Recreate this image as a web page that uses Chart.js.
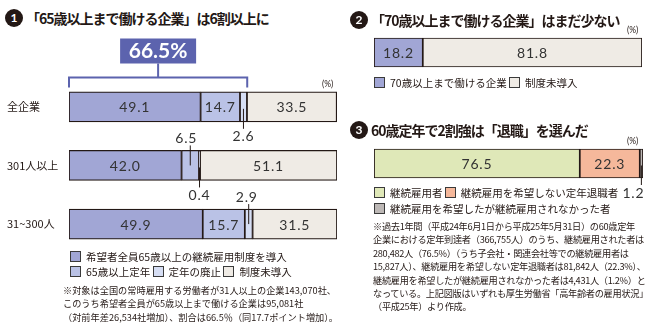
<!DOCTYPE html>
<html>
<head>
<meta charset="utf-8">
<script src="https://cdn.jsdelivr.net/npm/chart.js@4"></script>
<style>
  body { margin:0; background:#fff; width:649px; height:332px; overflow:hidden; position:relative;
         font-family:"Noto Sans CJK JP", "Noto Sans", sans-serif; color:#231815; }
  canvas { position:absolute; }
  .t { position:absolute; white-space:nowrap; }
  .title { font-size:14px; font-weight:bold; letter-spacing:-1px; line-height:18px; }
  .num { display:inline-block; width:18px; height:18px; border-radius:50%; background:#231815; color:#fff;
         font-family:Lato, sans-serif; font-size:12px; text-align:center; line-height:18px; margin-right:3px;
         letter-spacing:0; vertical-align:top; }
  .lg { font-size:10.5px; line-height:14px; }
  .sq { display:inline-block; width:9px; height:9px; border:1px solid #3a3a3a; vertical-align:-1px; margin-right:5px; }
  .note { font-size:9.2px; line-height:13.4px; }
  .pct { font-size:8.5px; font-family:Lato, sans-serif; }
</style>
</head>
<body>
<canvas id="c1" width="340" height="230" style="left:0;top:30px"></canvas>
<canvas id="c2" width="319" height="45" style="left:330px;top:30px"></canvas>
<canvas id="c3" width="319" height="70" style="left:330px;top:135px"></canvas>

<div class="t title" style="left:5px;top:9px"><span class="num">1</span>「65歳以上まで働ける企業」は6割以上に</div>
<div class="t title" style="left:350px;top:11px"><span class="num">2</span>「70歳以上まで働ける企業」はまだ少ない</div>
<div class="t title" style="left:350px;top:121px"><span class="num">3</span>60歳定年で2割強は「退職」を選んだ</div>

<div class="t pct" style="left:322px;top:79px">(%)</div>
<div class="t pct" style="left:627px;top:25px">(%)</div>
<div class="t pct" style="left:627px;top:136px">(%)</div>

<div id="lg1a" class="t lg" style="left:70px;top:250px"></div>
<div id="lg1b" class="t lg" style="left:70px;top:265px"></div>
<div class="t note" style="left:63px;top:284px">※対象は全国の常時雇用する労働者が31人以上の企業143,070社、<br>このうち希望者全員が65歳以上まで働ける企業は95,081社<br>（対前年差26,534社増加）、割合は66.5％（同17.7ポイント増加）。</div>

<div id="lg2" class="t lg" style="left:374px;top:76px"></div>
<div id="lg3a" class="t lg" style="left:374px;top:186px"></div>
<div id="lg3b" class="t lg" style="left:374px;top:202px"></div>
<div class="t note" style="left:373px;top:220px;letter-spacing:-0.3px">※過去1年間（平成24年6月1日から平成25年5月31日）の60歳定年<br>企業における定年到達者（366,755人）のうち、継続雇用された者は<br>280,482人（76.5%）（うち子会社・関連会社等での継続雇用者は<br>15,827人）、継続雇用を希望しない定年退職者は81,842人（22.3%）、<br>継続雇用を希望したが継続雇用されなかった者は4,431人（1.2%）と<br>なっている。上記図版はいずれも厚生労働省「高年齢者の雇用状況」<br>（平成25年）より作成。</div>

<script>
'use strict';

//Chart 1 data
var groups1 = ['全企業', '301人以上', '31~300人'];
var allOver65 = [49.1, 42.0, 49.9];
var retire65 = [14.7, 6.5, 15.7];
var abolished = [2.6, 0.4, 2.9];
var notIntroduced1 = [33.5, 51.1, 31.5];
var share65 = 66.5;

//Chart 2 data
var groups2 = ['全企業'];
var over70 = [18.2];
var notIntroduced2 = [81.8];

//Chart 3 data
var groups3 = ['定年到達者'];
var continued = [76.5];
var retiredNoWish = [22.3];
var wishedNotKept = [1.2];

var ink = '#231815';
var colors = {
    allOver65: '#a1a6d5',
    retire65: '#bac2e6',
    abolished: '#d6def4',
    none: '#efebe5',
    continued: '#dfe8b8',
    retired: '#f5b89b',
    notKept: '#bdb8b6',
    accent: '#5c63ae'
};

Chart.defaults.font.family = 'Lato, sans-serif';

//Legends
function legendItem(color, text) {
    return '<span class="sq" style="background:' + color + '"></span>' + text;
}
document.getElementById('lg1a').innerHTML = legendItem(colors.allOver65, '希望者全員65歳以上の継続雇用制度を導入');
document.getElementById('lg1b').innerHTML = legendItem(colors.retire65, '65歳以上定年') + '&nbsp;' +
    legendItem(colors.abolished, '定年の廃止') + '&nbsp;' + legendItem(colors.none, '制度未導入');
document.getElementById('lg2').innerHTML = legendItem(colors.allOver65, '70歳以上まで働ける企業') + '&nbsp;' +
    legendItem(colors.none, '制度未導入');
document.getElementById('lg3a').innerHTML = legendItem(colors.continued, '継続雇用者') + '&nbsp;' +
    legendItem(colors.retired, '継続雇用を希望しない定年退職者');
document.getElementById('lg3b').innerHTML = legendItem(colors.notKept, '継続雇用を希望したが継続雇用されなかった者');

//Labels inside bars, callouts and the 66.5% bracket
var labelPlugin = {
    id: 'barLabels',
    afterDatasetsDraw: function(chart, args, opts) {
        var ctx = chart.ctx;
        ctx.save();
        ctx.font = '14px Lato';
        ctx.letterSpacing = '0.8px';
        ctx.fillStyle = '#333';
        ctx.textAlign = 'center';
        ctx.textBaseline = 'middle';

        chart.data.datasets.forEach(function(ds, d) {
            if (!ds.inside) return;
            chart.getDatasetMeta(d).data.forEach(function(bar, i) {
                if (ds.inside[i]) {
                    ctx.fillText(ds.data[i].toFixed(1), (bar.x + bar.base) / 2, bar.y + 1);
                }
            });
        });

        (opts.callouts || []).forEach(function(c) {
            var bar = chart.getDatasetMeta(c.ds).data[c.i];
            var x = (bar.x + bar.base) / 2;
            var half = bar.height / 2;
            var text = chart.data.datasets[c.ds].data[c.i].toFixed(1);
            var ly = c.side === 'above' ? bar.y - half - 12 : bar.y + half + 15;
            var ey = c.side === 'above' ? ly + 7 : ly - 8;
            ctx.strokeStyle = ink;
            ctx.lineWidth = 1;
            ctx.beginPath();
            ctx.moveTo(x, bar.y + (c.side === 'above' ? 0 : 2));
            ctx.lineTo(x, ey);
            ctx.stroke();
            ctx.fillText(text, x + (c.dx || 0), ly);
        });

        var b = opts.bracket;
        if (b) {
            var xs = chart.scales.x;
            var x0 = xs.getPixelForValue(0), x1 = xs.getPixelForValue(b.value);
            var top = chart.chartArea.top;
            var mid = (x0 + x1) / 2;
            ctx.strokeStyle = colors.accent;
            ctx.lineWidth = 2;
            ctx.beginPath();
            ctx.moveTo(x0, top + 10);
            ctx.lineTo(x0, top);
            ctx.lineTo(x1, top);
            ctx.lineTo(x1, top + 10);
            ctx.moveTo(mid, top);
            ctx.lineTo(mid, top - 14);
            ctx.stroke();
            ctx.fillStyle = colors.accent;
            ctx.fillRect(mid - 38, top - 39, 76, 25);
            ctx.fillStyle = '#fff';
            ctx.font = 'bold 21px Lato';
            ctx.letterSpacing = '0px';
            ctx.fillText(b.value.toFixed(1) + '%', mid, top - 26);
        }
        ctx.restore();
    }
};

function segment(label, data, color, thickness, inside) {
    return {
        label: label,
        data: data,
        backgroundColor: color,
        borderColor: ink,
        borderWidth: 1.2,
        borderSkipped: false,
        barThickness: thickness,
        inside: inside
    };
}

function baseOptions(padding, pluginOpts) {
    return {
        indexAxis: 'y',
        responsive: false,
        animation: false,
        layout: { padding: padding },
        plugins: {
            legend: { display: false },
            tooltip: { enabled: false },
            barLabels: pluginOpts
        },
        scales: {
            x: { stacked: true, min: 0, max: 100, display: false },
            y: { stacked: true, display: false }
        }
    };
}

//Chart 1
var opts1 = baseOptions({ left: 7, right: 3, top: 47.5, bottom: 2.5 }, {
    callouts: [
        { ds: 1, i: 1, side: 'above', dx: -4 },
        { ds: 2, i: 0, side: 'below' },
        { ds: 2, i: 1, side: 'below' },
        { ds: 2, i: 2, side: 'above', dx: -2 }
    ],
    bracket: { value: share65 }
});
opts1.scales.y = {
    stacked: true,
    grid: { display: false },
    border: { display: false },
    ticks: { color: ink, crossAlign: 'far', padding: 0,
             font: { size: 11, family: '"Noto Sans CJK JP", sans-serif' } },
    afterFit: function(scale) { scale.width = 62; }
};
new Chart(document.getElementById('c1'), {
    type: 'bar',
    data: {
        labels: groups1,
        datasets: [
            segment('希望者全員65歳以上の継続雇用制度を導入', allOver65, colors.allOver65, 30, [true, true, true]),
            segment('65歳以上定年', retire65, colors.retire65, 30, [true, false, true]),
            segment('定年の廃止', abolished, colors.abolished, 30, null),
            segment('制度未導入', notIntroduced1, colors.none, 30, [true, true, true])
        ]
    },
    options: opts1,
    plugins: [labelPlugin]
});

//Chart 2
new Chart(document.getElementById('c2'), {
    type: 'bar',
    data: {
        labels: groups2,
        datasets: [
            segment('70歳以上まで働ける企業', over70, colors.allOver65, 29, [true]),
            segment('制度未導入', notIntroduced2, colors.none, 29, [true])
        ]
    },
    options: baseOptions({ left: 44, right: 7, top: 0, bottom: 0 }, {}),
    plugins: [labelPlugin]
});

//Chart 3
new Chart(document.getElementById('c3'), {
    type: 'bar',
    data: {
        labels: groups3,
        datasets: [
            segment('継続雇用者', continued, colors.continued, 29, [true]),
            segment('継続雇用を希望しない定年退職者', retiredNoWish, colors.retired, 29, [true]),
            segment('継続雇用を希望したが継続雇用されなかった者', wishedNotKept, colors.notKept, 29, null)
        ]
    },
    options: baseOptions({ left: 44, right: 6, top: 5, bottom: 18 }, {
        callouts: [{ ds: 2, i: 0, side: 'below', dx: -8 }]
    }),
    plugins: [labelPlugin]
});
</script>
</body>
</html>
